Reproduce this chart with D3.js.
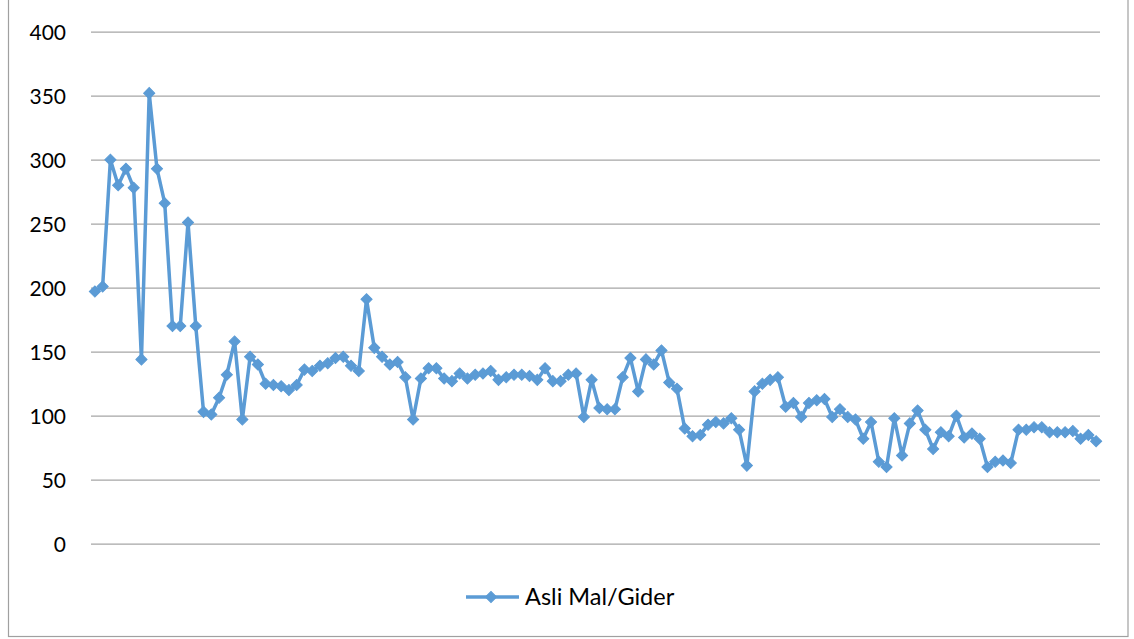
<!DOCTYPE html>
<html>
<head>
<meta charset="utf-8">
<script src="https://cdn.jsdelivr.net/npm/d3@7"></script>
<style>
  html, body { margin: 0; padding: 0; background: #fff; }
  svg { display: block; }
  text { font-family: Lato, "Open Sans", sans-serif; fill: #000; }
</style>
</head>
<body>
<svg id="chart" width="1134" height="639"></svg>
<script>
// Series: Asli Mal/Gider, one value per period
const seriesName = "Asli Mal/Gider";
const values = [
  197, 201, 300, 280, 293, 278, 144, 352, 293, 266,
  170, 170, 251, 170, 103, 101, 114, 132, 158, 97,
  146, 140, 125, 124, 123, 120, 124, 136, 135, 139,
  141, 145, 146, 139, 135, 191, 153, 146, 140, 142,
  130, 97, 129, 137, 137, 129, 127, 133, 129, 132,
  133, 135, 128, 130, 132, 132, 131, 128, 137, 127,
  127, 132, 133, 99, 128, 106, 105, 105, 130, 145,
  119, 144, 140, 151, 126, 121, 90, 84, 85, 93,
  95, 94, 98, 89, 61, 119, 125, 128, 130, 107,
  110, 99, 110, 112, 113, 99, 105, 99, 97, 82,
  95, 64, 60, 98, 69, 94, 104, 89, 74, 87,
  84, 100, 83, 86, 82, 60, 64, 65, 63, 89,
  89, 91, 91, 87, 87, 87, 88, 82, 85, 80
];
const categories = values.map((_, i) => i + 1);
const yTicks = [0, 50, 100, 150, 200, 250, 300, 350, 400];

const plot = { left: 91, right: 1100, top: 31.7, bottom: 543.7 };
const blue = "#5B9BD5";

const svg = d3.select("#chart");

// outer chart frame
svg.append("rect")
  .attr("x", 8.5).attr("y", -2)
  .attr("width", 1119.5).attr("height", 638.5)
  .attr("fill", "#fff").attr("stroke", "#A0A0A0").attr("stroke-width", 1.2);

const x = d3.scaleBand().domain(categories).range([plot.left, plot.right]).padding(0);
const cx = d => x(d) + x.bandwidth() / 2;
const y = d3.scaleLinear().domain([0, 400]).range([plot.bottom, plot.top]);

// horizontal gridlines and value labels
const yAxis = d3.axisLeft(y).tickValues(yTicks).tickSize(-(plot.right - plot.left)).tickPadding(25);
const gy = svg.append("g").attr("transform", `translate(${plot.left},0)`).call(yAxis);
gy.select(".domain").remove();
gy.selectAll(".tick line").attr("stroke", "#A6A6A6").attr("stroke-width", 1.3);
gy.selectAll(".tick text")
  .attr("font-size", 21)
  .attr("font-family", "Lato, 'Open Sans', sans-serif")
  .attr("fill", "#000")
  .attr("dy", "0.36em");

// series line
const line = d3.line().x((d, i) => cx(categories[i])).y(d => y(d));
svg.append("path")
  .datum(values)
  .attr("fill", "none")
  .attr("stroke", blue)
  .attr("stroke-width", 3.5)
  .attr("stroke-linejoin", "round")
  .attr("d", line);

// diamond markers
const marker = d3.symbol().type(d3.symbolSquare).size(62);
svg.append("g").selectAll("path")
  .data(values)
  .join("path")
  .attr("transform", (d, i) => `translate(${cx(categories[i])},${y(d)}) rotate(45)`)
  .attr("d", marker)
  .attr("fill", blue)
  .attr("stroke", blue)
  .attr("stroke-width", 1);

// legend
const lg = svg.append("g");
lg.append("line")
  .attr("x1", 466).attr("x2", 519).attr("y1", 597).attr("y2", 597)
  .attr("stroke", blue).attr("stroke-width", 3.5);
lg.append("path")
  .attr("transform", "translate(491,597) rotate(45)")
  .attr("d", marker)
  .attr("fill", blue).attr("stroke", blue).attr("stroke-width", 1);
lg.append("text")
  .attr("x", 525).attr("y", 605)
  .attr("font-size", 23.5)
  .text(seriesName);
</script>
</body>
</html>
